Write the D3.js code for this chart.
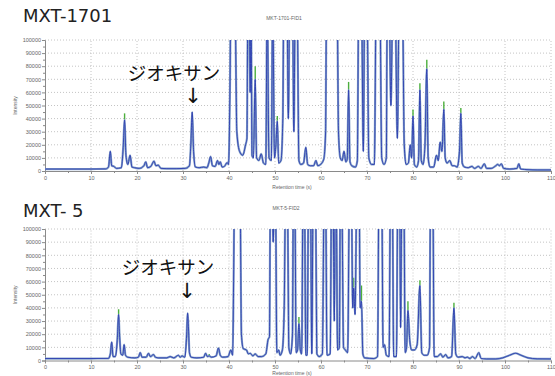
<!DOCTYPE html>
<html>
<head>
<meta charset="utf-8">
<script src="https://cdn.jsdelivr.net/npm/d3@7"></script>
<style>
  body { margin: 0; background: #fff; }
  svg { display: block; }
  .tick text { font-family: "Liberation Sans", Arial, sans-serif; font-size: 5.5px; fill: #666; }
  .axis path, .axis line { stroke: #8a8a8a; }
  .grid line { stroke: #c4c4c4; stroke-dasharray: 1,2; }
</style>
</head>
<body>
<div id="chart"></div>
<script>
// retention time (min) / intensity pairs
const mxt1701 = [
  [0,1500],[5,1500],[10,1500],[13.2,1600],[13.8,3000],[14.2,15000],[14.5,4000],[15.0,3500],[15.5,2000],
  [16.6,2500],[17.0,18000],[17.3,39000],[17.6,12000],[18.0,5000],[18.5,12000],[18.9,3000],[19.5,2500],
  [20.5,2000],[21.5,4000],[21.9,7000],[22.3,2500],[23.0,3500],[23.7,7500],[24.1,4000],[24.6,4500],
  [25.2,2000],[26.5,1800],[28.5,1800],[30.5,2000],[31.4,4000],[31.7,20000],[32.0,45000],[32.3,15000],
  [32.7,3000],[33.5,2500],[34.5,3000],[35.2,2500],[35.6,6000],[36.0,11000],[36.4,4000],[37.0,3500],
  [37.5,8000],[37.8,5000],[38.1,7000],[38.5,3000],[39.0,3500],[39.6,6500],[39.9,5000],[40.2,60000],
  [40.4,130000],[41.3,130000],[41.7,30000],[42.3,15000],[43.0,12000],[43.6,20000],[43.9,25000],
  [44.1,130000],[44.4,130000],[44.6,60000],[44.8,130000],[45.0,12000],[45.3,10000],[45.7,70000],
  [46.0,10000],[46.5,8000],[47.0,13000],[47.5,6000],[48.0,5000],[48.3,130000],[48.7,10000],[49.2,8000],
  [49.5,130000],[49.9,10000],[50.2,20000],[50.5,38000],[50.8,6000],[51.3,8000],[51.7,40000],[51.9,130000],
  [52.6,130000],[52.9,40000],[53.2,130000],[53.8,130000],[54.1,30000],[54.4,130000],[54.8,130000],
  [55.2,8000],[55.6,5000],[56.2,6000],[56.7,18000],[57.1,5000],[57.7,4000],[58.4,4000],[58.9,8000],
  [59.3,4000],[59.9,5000],[60.6,9000],[61.0,30000],[61.2,130000],[63.5,130000],[63.8,30000],[64.2,10000],
  [64.6,8000],[65.0,15000],[65.4,7000],[65.7,9000],[66.0,62000],[66.3,7000],[66.7,4000],[67.5,3000],
  [67.9,8000],[68.2,130000],[68.8,130000],[69.2,15000],[69.5,130000],[70.0,130000],[70.4,10000],
  [71.0,5000],[71.6,5000],[72.0,130000],[72.8,130000],[73.2,10000],[73.7,5000],[74.2,10000],
  [74.4,130000],[74.8,130000],[75.2,50000],[75.6,130000],[76.1,130000],[76.6,25000],[77.0,130000],
  [77.7,130000],[78.1,20000],[78.5,5000],[79.0,6000],[79.4,20000],[79.7,10000],[80.0,42000],[80.3,5000],
  [80.8,3000],[81.2,8000],[81.5,62000],[81.8,8000],[82.2,5000],[82.6,20000],[83.0,78000],[83.3,10000],
  [83.7,3000],[84.5,3000],[85.1,12000],[85.5,8000],[85.9,22000],[86.3,15000],[86.7,47000],[87.0,10000],
  [87.4,6000],[88.0,8000],[88.5,4000],[89.0,4000],[89.6,3000],[90.1,15000],[90.4,44000],[90.7,6000],
  [91.2,3000],[92.0,2500],[92.8,3500],[93.4,2000],[94.2,3500],[94.8,2000],[95.5,5500],[96.0,2000],
  [97.0,2000],[98.0,4000],[98.4,5000],[98.8,4000],[99.2,5500],[99.7,2000],[101.0,1500],[102.6,2000],
  [103.0,5500],[103.4,1500],[105.0,1000],[107,800],[110,800]
];

const mxt5 = [
  [0,1500],[10,1500],[13.8,1600],[14.2,5000],[14.5,14000],[14.8,3000],[15.3,3000],[15.7,15000],
  [16.0,35000],[16.2,20000],[16.5,5000],[16.9,4000],[17.2,12000],[17.5,4000],[18.0,2500],[19.5,2000],
  [20.3,2500],[20.7,6000],[21.1,2500],[22.0,2500],[22.5,5500],[22.9,3000],[23.6,4500],[24.0,2500],
  [24.7,2000],[26.5,2000],[27.2,3000],[28.0,2000],[29.0,4000],[29.4,2500],[29.8,3500],[30.4,2500],
  [30.8,20000],[31.0,36000],[31.2,24000],[31.4,6000],[31.8,2500],[33.0,2000],[34.5,2500],[34.9,5500],
  [35.3,3000],[35.7,3500],[36.2,2500],[37.2,3500],[37.7,9500],[38.1,4000],[38.6,2500],[39.8,3000],
  [40.4,8000],[40.8,4000],[41.0,60000],[41.2,130000],[42.4,130000],[42.7,20000],[43.1,9000],[43.8,8000],
  [44.2,5000],[44.6,5500],[45.2,3500],[45.7,5000],[46.3,3000],[47.1,3000],[48.0,5000],[48.5,16000],
  [48.8,18000],[49.0,130000],[49.4,130000],[49.6,90000],[49.9,130000],[50.1,130000],[50.4,6000],
  [50.8,8000],[51.1,4000],[51.6,8000],[52.0,40000],[52.3,130000],[52.7,130000],[53.0,10000],[53.4,5000],
  [53.8,20000],[54.0,130000],[54.3,130000],[54.6,6000],[54.9,8000],[55.2,28000],[55.5,8000],[55.8,5000],
  [56.1,130000],[56.4,130000],[56.7,4000],[57.0,4000],[57.3,130000],[57.7,130000],[58.0,5000],
  [58.3,130000],[58.8,130000],[59.1,5000],[59.6,3000],[60.3,5000],[60.7,130000],[61.0,130000],
  [61.3,4000],[62.0,5000],[62.3,130000],[62.6,130000],[62.9,30000],[63.1,130000],[63.3,130000],
  [63.6,8000],[64.0,10000],[64.2,130000],[64.5,130000],[64.9,10000],[65.3,8000],[65.8,6000],
  [66.2,130000],[66.6,130000],[66.9,40000],[67.1,55000],[67.4,35000],[67.8,130000],[68.3,130000],
  [68.5,40000],[68.8,45000],[69.1,5000],[69.5,2000],[71.5,1500],[72.3,3000],[72.6,130000],[73.2,130000],
  [73.5,10000],[73.8,12000],[74.2,4000],[74.8,3000],[75.1,130000],[75.5,130000],[75.8,3000],[76.4,3000],
  [76.7,130000],[77.1,130000],[77.3,25000],[77.6,130000],[78.0,130000],[78.3,6000],[78.6,10000],
  [78.9,38000],[79.3,15000],[79.7,8000],[80.3,8000],[80.9,12000],[81.5,57000],[81.9,6000],[82.4,4000],
  [83.1,4000],[83.6,10000],[83.8,130000],[84.3,130000],[84.6,3000],[85.3,3000],[86.0,5000],[86.5,2500],
  [87.1,4500],[87.6,2000],[88.4,3000],[88.9,40000],[89.3,5000],[89.8,2500],[90.7,3000],[91.3,2000],
  [91.8,2500],[92.4,1500],[92.9,3000],[93.5,1500],[94.3,6000],[94.8,1500],[96,1200],[98.0,1200],
  [99.5,2000],[101,4000],[102.3,5500],[103.5,4000],[105,2000],[107,1300],[110,1200]
];

// green trace tips poking above the blue one: [time, from, to]
const tips1701 = [[17.3,39000,44000],[45.7,70000,80000],[50.5,38000,42000],[66.0,62000,68000],
  [80.0,42000,47000],[81.5,62000,67000],[83.0,78000,85000],[86.7,47000,53000],[90.4,44000,48000]];
const tips5 = [[16.0,35000,39000],[35.7,3500,5000],[55.2,28000,33000],[67.1,55000,63000],
  [68.8,45000,57000],[78.9,38000,45000],[81.5,57000,61000],[88.9,40000,44000]];

const yTicks = d3.range(0, 100001, 10000);
const yMinor = d3.range(5000, 100000, 10000);
const xTicks = d3.range(0, 111, 10);
const xMinor = d3.range(5, 110, 10);

const W = 555, H = 376;
const svg = d3.select('#chart').append('svg').attr('width', W).attr('height', H);

const panels = [
  {id: 'p1', data: mxt1701, tips: tips1701, title: 'MXT-1701', sub: 'MKT-1701-FID1',
   top: 40, bottom: 171, titleY: 22, subX: 284, subY: 20,
   label: {x: 174, y: 72}, arrow: {x: 193, y: 96}},
  {id: 'p2', data: mxt5, tips: tips5, title: 'MXT- 5', sub: 'MKT-5-FID2',
   top: 229, bottom: 360.5, titleY: 217, subX: 286, subY: 210,
   label: {x: 168, y: 266}, arrow: {x: 187, y: 291}}
];

panels.forEach(p => drawPanel(p));

function drawPanel(p) {
  const x = d3.scaleLinear().domain([0, 110]).range([45, 551]);
  const y = d3.scaleLinear().domain([0, 100000]).range([p.bottom, p.top]);
  const g = svg.append('g');

  g.append('text')
    .attr('x', 23).attr('y', p.titleY)
    .style('font-family', '"DejaVu Sans", Verdana, sans-serif')
    .style('font-size', '18px').style('fill', '#222')
    .text(p.title);

  g.append('text')
    .attr('x', p.subX).attr('y', p.subY).attr('text-anchor', 'middle')
    .style('font-family', '"Liberation Sans", Arial, sans-serif')
    .style('font-size', '5px').style('fill', '#666')
    .text(p.sub);

  // grid
  g.append('g').attr('class', 'grid')
    .selectAll('line').data(yTicks.slice(1)).join('line')
    .attr('x1', x(0)).attr('x2', x(110))
    .attr('y1', d => y(d)).attr('y2', d => y(d));
  g.append('g').attr('class', 'grid')
    .selectAll('line').data(xTicks.slice(1)).join('line')
    .attr('x1', d => x(d)).attr('x2', d => x(d))
    .attr('y1', y(0)).attr('y2', y(100000));

  // axes
  g.append('g').attr('class', 'axis')
    .attr('transform', `translate(${x(0)},0)`)
    .call(d3.axisLeft(y).tickValues(yTicks).tickSize(3).tickPadding(1).tickFormat(d3.format('d')));
  g.append('g').attr('class', 'axis')
    .attr('transform', `translate(${x(0)},0)`)
    .call(d3.axisLeft(y).tickValues(yMinor).tickSize(2).tickFormat(''))
    .call(s => s.select('.domain').remove());
  g.append('g').attr('class', 'axis')
    .attr('transform', `translate(0,${y(0)})`)
    .call(d3.axisBottom(x).tickValues(xTicks).tickSize(3).tickPadding(2).tickSizeOuter(0));
  g.append('g').attr('class', 'axis')
    .attr('transform', `translate(0,${y(0)})`)
    .call(d3.axisBottom(x).tickValues(xMinor).tickSize(2).tickFormat(''))
    .call(s => s.select('.domain').remove());

  g.append('text')
    .attr('transform', `translate(17,${(p.top + p.bottom) / 2}) rotate(-90)`)
    .attr('text-anchor', 'middle')
    .style('font-family', '"Liberation Sans", Arial, sans-serif')
    .style('font-size', '5px').style('fill', '#666')
    .text('Intensity');

  g.append('text')
    .attr('x', 292).attr('y', Math.min(p.bottom + 18, 375)).attr('text-anchor', 'middle')
    .style('font-family', '"Liberation Sans", Arial, sans-serif')
    .style('font-size', '5px').style('fill', '#666')
    .text('Retention time (s)');

  // trace
  g.append('clipPath').attr('id', 'clip-' + p.id)
    .append('rect')
    .attr('x', x(0)).attr('y', y(100000))
    .attr('width', x(110) - x(0)).attr('height', y(0) - y(100000) + 1);

  const line = d3.line()
    .x(d => x(d[0])).y(d => y(d[1]))
    .curve(d3.curveMonotoneX);

  const plot = g.append('g').attr('clip-path', `url(#clip-${p.id})`);

  plot.selectAll('.tip').data(p.tips).join('line')
    .attr('x1', d => x(d[0])).attr('x2', d => x(d[0]))
    .attr('y1', d => y(d[1])).attr('y2', d => y(d[2]))
    .attr('stroke', '#4caf3c').attr('stroke-width', 1.4);

  plot.append('path').datum(p.data)
    .attr('d', line)
    .attr('fill', 'none')
    .attr('stroke', '#88a4ca')
    .attr('stroke-width', 2.2)
    .attr('stroke-linejoin', 'round');

  plot.append('path').datum(p.data)
    .attr('d', line)
    .attr('fill', 'none')
    .attr('stroke', '#2b3cb0')
    .attr('stroke-width', 0.9)
    .attr('stroke-linejoin', 'round');

  // annotation
  g.append('text')
    .attr('x', p.label.x).attr('y', p.label.y)
    .attr('text-anchor', 'middle').attr('dominant-baseline', 'central')
    .style('font-family', '"Noto Sans CJK JP", sans-serif')
    .style('font-size', '18.5px').style('fill', '#111')
    .text('ジオキサン');

  g.append('text')
    .attr('x', p.arrow.x).attr('y', p.arrow.y)
    .attr('text-anchor', 'middle').attr('dominant-baseline', 'central')
    .style('font-family', '"DejaVu Sans", sans-serif')
    .style('font-size', '21px').style('fill', '#111')
    .text('\u2193');
}
</script>
</body>
</html>
